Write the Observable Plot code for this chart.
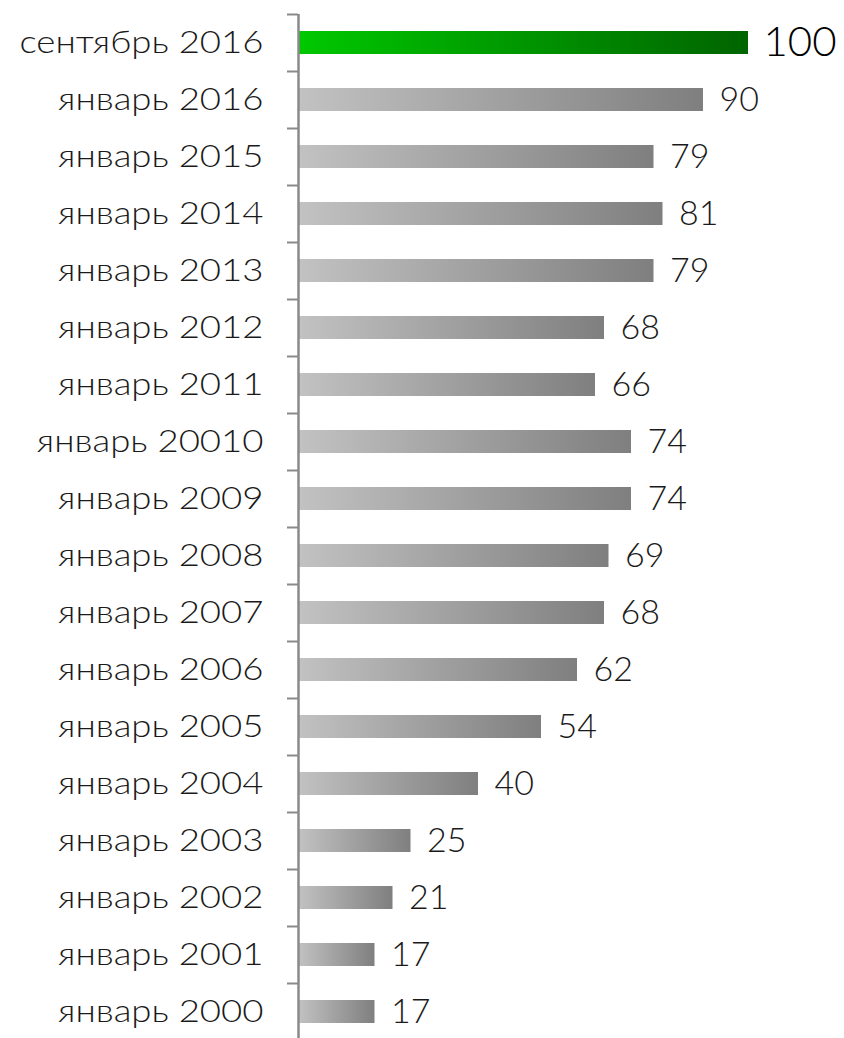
<!DOCTYPE html>
<html>
<head>
<meta charset="utf-8">
<script src="https://cdn.jsdelivr.net/npm/d3@7"></script>
<script src="https://cdn.jsdelivr.net/npm/@observablehq/plot@0.6"></script>
<style>
  html, body { margin: 0; padding: 0; background: #fff; }
  #chart svg { display: block; }
</style>
</head>
<body>
<div id="chart"></div>
<script>
const labels = [
  "сентябрь 2016", "январь 2016", "январь 2015", "январь 2014", "январь 2013",
  "январь 2012", "январь 2011", "январь 20010", "январь 2009", "январь 2008",
  "январь 2007", "январь 2006", "январь 2005", "январь 2004", "январь 2003",
  "январь 2002", "январь 2001", "январь 2000"
];
const values = [100, 90, 79, 81, 79, 68, 66, 74, 74, 69, 68, 62, 54, 40, 25, 21, 17, 17];
const highlight = ["сентябрь 2016"];

const data = labels.map((label, i) => ({label, value: values[i], hi: highlight.includes(label)}));

const W = 844, H = 1038;
const marginLeft = 298, marginRight = 96, marginTop = 14, marginBottom = -2;
const step = (H - marginTop - marginBottom) / labels.length;
const pxPerUnit = (W - marginLeft - marginRight) / 100;
const font = "Lato, 'Open Sans', sans-serif";

const plot = Plot.plot({
  width: W,
  height: H,
  marginLeft, marginRight, marginTop, marginBottom,
  style: {fontFamily: font, background: "#fff"},
  x: {domain: [0, 100], axis: null},
  y: {domain: labels, paddingInner: 0.6, paddingOuter: 0.3, align: 0.5, axis: null},
  marks: [
    Plot.barX(data.filter(d => !d.hi), {y: "label", x: "value", fill: "url(#grayGrad)"}),
    Plot.barX(data.filter(d => d.hi), {y: "label", x: "value", fill: "url(#greenGrad)"}),
    // category tick marks at band boundaries
    Plot.ruleY(labels, {y: d => d, dy: -step / 2, x1: -11 / pxPerUnit, x2: 0, stroke: "#8a8a8a", strokeWidth: 2}),
    Plot.ruleX([0], {stroke: "#8a8a8a", strokeWidth: 2.5}),
    // category labels
    Plot.text(data, {y: "label", x: 0, text: "label", dx: -35, textAnchor: "end", fontSize: 31, fontWeight: 300, fill: "#1a1a1a", className: "catlab"}),
    // value labels
    Plot.text(data.filter(d => !d.hi), {y: "label", x: "value", text: d => String(d.value), dx: 16, textAnchor: "start", fontSize: 34, fontWeight: 300, fill: "#1a1a1a"}),
    Plot.text(data.filter(d => d.hi), {y: "label", x: "value", text: d => String(d.value), dx: 15, textAnchor: "start", fontSize: 42, fontWeight: 300, fill: "#000"})
  ]
});

const svg = d3.select(plot);
const defs = svg.insert("defs", ":first-child");
const g1 = defs.append("linearGradient").attr("id", "grayGrad").attr("x1", "0").attr("x2", "1").attr("y1", "0").attr("y2", "0");
g1.append("stop").attr("offset", "0%").attr("stop-color", "#c2c2c2");
g1.append("stop").attr("offset", "100%").attr("stop-color", "#7f7f7f");
const g2 = defs.append("linearGradient").attr("id", "greenGrad").attr("x1", "0").attr("x2", "1").attr("y1", "0").attr("y2", "0");
g2.append("stop").attr("offset", "0%").attr("stop-color", "#00c800");
g2.append("stop").attr("offset", "100%").attr("stop-color", "#006400");

// the category labels in the reference are drawn horizontally stretched
const sx = 1.18;
svg.selectAll(".catlab text").each(function() {
  const t = this.getAttribute("transform");
  if (t) {
    this.setAttribute("transform", t + ` scale(${sx},1)`);
  } else {
    const x = +this.getAttribute("x") || 0, y = +this.getAttribute("y") || 0;
    this.removeAttribute("x"); this.removeAttribute("y");
    this.setAttribute("transform", `translate(${x},${y}) scale(${sx},1)`);
  }
});

document.getElementById("chart").appendChild(plot);
</script>
</body>
</html>
